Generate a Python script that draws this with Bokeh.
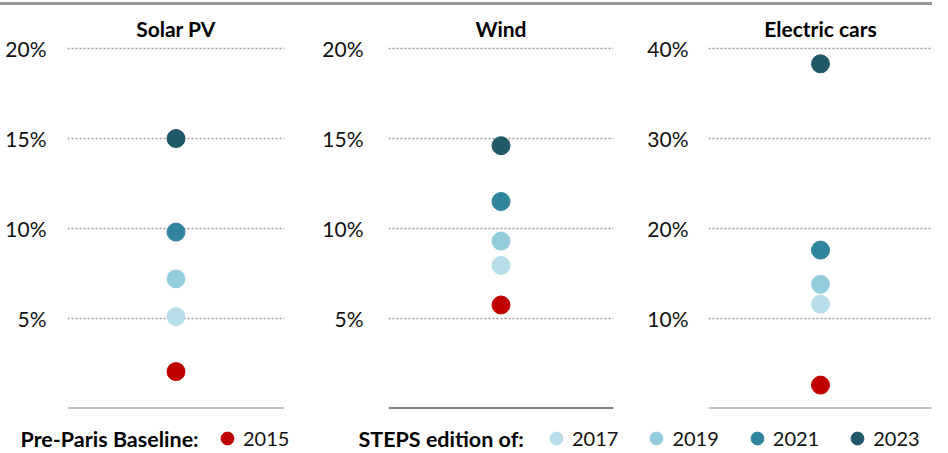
from bokeh.plotting import figure
from bokeh.models import (ColumnDataSource, FixedTicker, PrintfTickFormatter, Legend,
                          LegendItem, Range1d, FactorRange, Div, Label, Span)
from bokeh.layouts import column, row
from bokeh.embed import file_html
from bokeh.resources import INLINE

# ---------------- data ----------------
years = ["2015", "2017", "2019", "2021", "2023"]
year_colors = ["#C00000", "#B7DEE8", "#93CDDD", "#31859C", "#215968"]
technologies = ["Solar PV", "Wind", "Electric cars"]
solar_pv = [2.05, 5.1, 7.2, 9.8, 15.0]
wind = [5.75, 7.95, 9.3, 11.5, 14.6]
electric_cars = [2.6, 11.6, 13.8, 17.6, 38.3]
ticks_re = [5, 10, 15, 20]
ticks_ev = [10, 20, 30, 40]
legend_heads = ["Pre-Paris Baseline:", "STEPS edition of:"]

FONT = "Lato"
GRID = "#9a9a9a"


def panel(name, values, ticks, y_end, left, fw, right, standoff, axis_color):
    src = ColumnDataSource(dict(tech=[name] * len(values), value=values,
                                year=years, color=year_colors))
    p = figure(x_range=FactorRange(factors=[name]), y_range=Range1d(0, y_end),
               frame_width=fw, frame_height=367,
               min_border_left=left, min_border_right=right,
               min_border_top=41, min_border_bottom=2,
               output_backend="svg", toolbar_location=None, title=name)
    p.title.text_font = FONT
    p.title.text_font_size = "21px"
    p.title.text_font_style = "bold"
    p.title.align = "center"
    p.title.text_color = "#000000"
    p.title.standoff = 2
    p.outline_line_color = None
    p.background_fill_color = "white"
    p.border_fill_color = "white"

    yax = p.yaxis[0]
    yax.ticker = FixedTicker(ticks=ticks)
    yax.formatter = PrintfTickFormatter(format="%d%%")
    yax.axis_line_color = None
    yax.major_tick_line_color = None
    yax.minor_tick_line_color = None
    yax.major_tick_out = 0
    yax.major_tick_in = 0
    yax.major_label_standoff = standoff
    yax.major_label_text_font = FONT
    yax.major_label_text_font_size = "21px"
    yax.major_label_text_color = "#111111"

    # bottom baseline instead of a labelled x axis
    p.xaxis.visible = False
    p.add_layout(Span(location=0, dimension="width", line_color=axis_color, line_width=2))

    p.xgrid.grid_line_color = None
    p.ygrid.ticker = FixedTicker(ticks=ticks)
    p.ygrid.grid_line_color = GRID
    p.ygrid.grid_line_width = 1.5
    p.ygrid.grid_line_dash = "2 2"

    p.scatter(x="tech", y="value", color="color", size=18, source=src)
    return p


p1 = panel(technologies[0], solar_pv, ticks_re, 20.39, 67, 217, 34, 21, "#8a8a8a")
p2 = panel(technologies[1], wind, ticks_re, 20.39, 70, 225, 24, 25, "#000000")
p3 = panel(technologies[2], electric_cars, ticks_ev, 40.78, 71, 224, 0, 20, "#8a8a8a")

# ---------------- legend strip ----------------
lf = figure(width=932, height=42, x_range=Range1d(0, 1), y_range=Range1d(0, 1),
            min_border=0, output_backend="svg", toolbar_location=None)
lf.axis.visible = False
lf.grid.visible = False
lf.outline_line_color = None

nan = float("nan")
dummies = [lf.scatter(x=[nan], y=[nan], color=c, size=13) for c in year_colors]


def make_legend(items, loc, spacing):
    leg = Legend(items=items, location=loc, orientation="horizontal")
    leg.border_line_color = None
    leg.background_fill_alpha = 0
    leg.padding = 0
    leg.margin = 0
    leg.glyph_width = 32
    leg.glyph_height = 32
    leg.label_standoff = -9
    leg.spacing = spacing
    leg.label_text_font = FONT
    leg.label_text_font_size = "20px"
    leg.label_text_color = "#111111"
    return leg


leg1 = make_legend([LegendItem(label=years[0], renderers=[dummies[0]])], (211, -2), 22)
leg2 = make_legend([LegendItem(label=y, renderers=[r]) for y, r in zip(years[1:], dummies[1:])],
                   (540, -2), 22)
lf.add_layout(leg1)
lf.add_layout(leg2)

for head, hx in zip(legend_heads, [20, 358]):
    lf.add_layout(Label(x=hx, y=14, x_units="screen", y_units="screen", text=head,
                        text_font=FONT, text_font_size="21.5px", text_font_style="bold",
                        text_baseline="middle", text_color="#000000"))

topline = Div(width=948, height=3,
              styles={"position": "absolute", "z-index": "10", "top": "2px", "left": "0px",
                      "margin": "0px", "padding": "0px",
                      "background-color": "#999999"})

layout = column(topline, row(p1, p2, p3), lf)

open("out.html", "w").write(file_html(layout, INLINE))
